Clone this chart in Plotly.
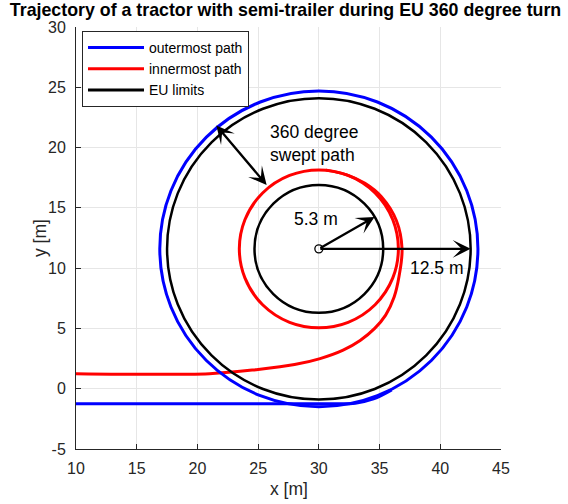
import plotly.graph_objects as go

# ---------------- data ----------------
center = [30.0, 11.6]            # turn centre [m]
eu_outer_radius = 12.5           # EU outer limit [m]
eu_inner_radius = 5.3            # EU inner limit [m]
outer_path_radius = 13.1         # steady outermost path radius [m]
inner_path_radius = 6.55         # steady innermost path radius [m]

# outermost path: straight approach merging into the circle
outer_entry_x = [10, 31, 33, 34.5, 36.0]
outer_entry_y = [-1.25, -1.25, -1.2, -0.85, -0.1]

# innermost path: straight approach and spiral in to the steady circle
inner_entry_x = [10, 21, 25, 28, 30.1, 32, 33.4, 34.6, 35.5, 36.2, 36.6, 36.85, 36.39, 35.15, 33.80, 32.24, 30.57]
inner_entry_y = [1.25, 1.25, 1.6, 2.0, 2.5, 3.2, 4.0, 5.0, 6.1, 7.6, 9.3, 11.6, 13.93, 15.92, 17.03, 17.76, 18.13]

# arrow end points
swept_arrow_inner = [25.7, 16.9]
swept_arrow_outer = [21.45, 21.95]
inner_radius_tip = [34.59, 14.25]
outer_radius_tip = [42.5, 11.6]

x_ticks = [10, 15, 20, 25, 30, 35, 40, 45]
y_ticks = [-5, 0, 5, 10, 15, 20, 25, 30]
y_tick_text = ["-5", "0", "5", "10", "15", "20", "25", "30"]

FONT = "Liberation Sans, Arial, Helvetica, sans-serif"
AX = "#262626"

# plot-area geometry in pixels
L, R, T, B = 76, 67, 27, 55
PW, PH = 568 - L - R, 504 - T - B

fig = go.Figure()

fig.add_trace(go.Scatter(x=outer_entry_x, y=outer_entry_y, mode="lines",
                         line=dict(color="#0000ff", width=3, shape="spline"),
                         name="outermost path"))
fig.add_trace(go.Scatter(x=inner_entry_x, y=inner_entry_y, mode="lines",
                         line=dict(color="#ff0000", width=3, shape="spline", smoothing=1.0),
                         name="innermost path"))
fig.add_trace(go.Scatter(x=[None], y=[None], mode="lines",
                         line=dict(color="black", width=3),
                         name="EU limits"))
fig.add_trace(go.Scatter(x=[center[0]], y=[center[1]], mode="markers",
                         marker=dict(symbol="circle-open", size=8, color="black",
                                     line=dict(width=1.3, color="black")),
                         showlegend=False, hoverinfo="skip"))

def circle(r, color, width):
    return dict(type="circle", xref="x", yref="y",
                x0=center[0] - r, x1=center[0] + r,
                y0=center[1] - r, y1=center[1] + r,
                line=dict(color=color, width=width), layer="above")

shapes = [
    circle(outer_path_radius, "#0000ff", 3),
    circle(inner_path_radius, "#ff0000", 3),
    circle(eu_outer_radius, "black", 2.5),
    circle(eu_inner_radius, "black", 2.5),
]

annotations = [
    dict(x=swept_arrow_inner[0], y=swept_arrow_inner[1],
         ax=swept_arrow_outer[0], ay=swept_arrow_outer[1],
         xref="x", yref="y", axref="x", ayref="y", text="",
         showarrow=True, arrowhead=3, startarrowhead=3, arrowside="end+start",
         arrowsize=1.3, startarrowsize=1.3, arrowwidth=2.3, arrowcolor="black"),
    dict(x=inner_radius_tip[0], y=inner_radius_tip[1],
         ax=center[0], ay=center[1],
         xref="x", yref="y", axref="x", ayref="y", text="",
         showarrow=True, arrowhead=3, arrowsize=1.3, arrowwidth=2.3, arrowcolor="black"),
    dict(x=outer_radius_tip[0], y=outer_radius_tip[1],
         ax=center[0], ay=center[1],
         xref="x", yref="y", axref="x", ayref="y", text="",
         showarrow=True, arrowhead=3, arrowsize=1.3, arrowwidth=2.3, arrowcolor="black"),
    dict(x=25.8, y=20.33, xref="x", yref="y", text="360 degree<br>swept path",
         showarrow=False, xanchor="left", yanchor="middle", align="left",
         font=dict(family=FONT, size=17.5, color="black")),
    dict(x=29.77, y=14.05, xref="x", yref="y", text="5.3 m",
         showarrow=False, xanchor="center", yanchor="middle",
         font=dict(family=FONT, size=17.5, color="black")),
    dict(x=39.7, y=10.05, xref="x", yref="y", text="12.5 m",
         showarrow=False, xanchor="center", yanchor="middle",
         font=dict(family=FONT, size=17.5, color="black")),
    # axis titles
    dict(x=0.5, y=-(489 - (504 - B)) / PH, xref="paper", yref="paper", text="x [m]",
         showarrow=False, xanchor="center", yanchor="middle",
         font=dict(family=FONT, size=17.5, color=AX)),
    dict(x=-(L - 40) / PW, y=0.5, xref="paper", yref="paper", text="y [m]",
         showarrow=False, xanchor="center", yanchor="middle", textangle=-90,
         font=dict(family=FONT, size=17.5, color=AX)),
]

fig.update_layout(
    width=568, height=504,
    margin=dict(l=L, r=R, t=T, b=B),
    plot_bgcolor="white", paper_bgcolor="white",
    font=dict(family=FONT, size=16, color=AX),
    title=dict(text="<b>Trajectory of a tractor with semi-trailer during EU 360 degree turn</b>",
               x=0.493, xref="paper", xanchor="center",
               y=1 - 9.5 / 504, yref="container", yanchor="middle",
               font=dict(family=FONT, size=17.8, color="black")),
    legend=dict(x=6 / PW, y=1 - 4 / PH, xanchor="left", yanchor="top",
                bgcolor="white", bordercolor=AX, borderwidth=1,
                font=dict(family=FONT, size=14, color="black"),
                itemwidth=56, tracegroupgap=0),
    shapes=shapes,
    annotations=annotations,
    showlegend=True,
)

fig.update_xaxes(range=[10, 45], tickvals=x_ticks, showgrid=True, gridcolor="#e6e6e6",
                 gridwidth=1, zeroline=False, showline=True, linecolor=AX, linewidth=1,
                 ticks="inside", ticklen=5, tickcolor=AX, ticklabelstandoff=5,
                 automargin=False)
fig.update_yaxes(range=[-5, 30], tickvals=y_ticks, ticktext=y_tick_text, showgrid=True,
                 gridcolor="#e6e6e6", gridwidth=1, zeroline=False, showline=True,
                 linecolor=AX, linewidth=1, ticks="inside", ticklen=5, tickcolor=AX,
                 ticklabelstandoff=6, automargin=False)

fig.write_html("out.html")
